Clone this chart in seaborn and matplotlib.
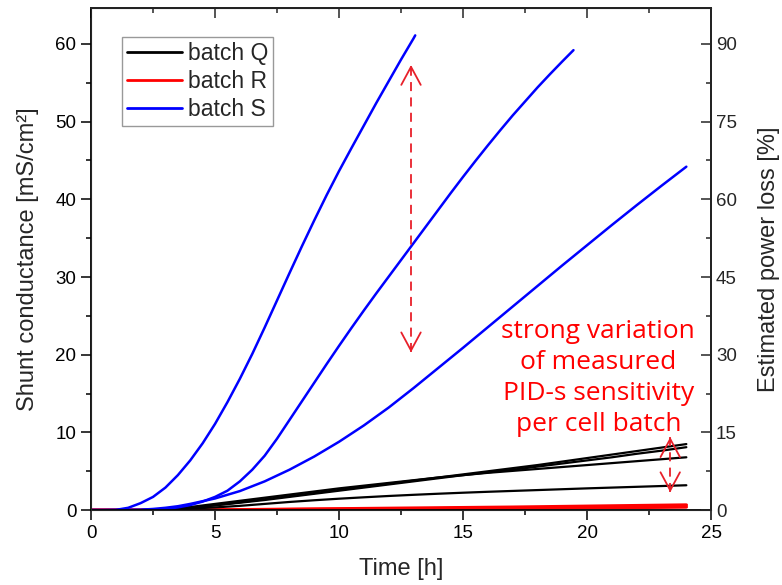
import pandas as pd
import seaborn as sns
import matplotlib.pyplot as plt
from matplotlib.ticker import MultipleLocator

# time [h] and shunt conductance [mS/cm2]
t_s1 = [0, 0.5, 1, 1.5, 2, 2.5, 3, 3.5, 4, 4.5, 5, 5.5, 6, 6.5, 7, 7.5, 8, 8.5, 9, 9.5,
        10, 10.5, 11, 11.5, 12, 12.5, 13, 13.07]
s1 = [0, 0, 0.03, 0.3, 0.9, 1.7, 2.9, 4.5, 6.4, 8.6, 11.1, 13.9, 16.9, 20.1, 23.5, 27.0, 30.5,
      33.95, 37.3, 40.55, 43.65, 46.6, 49.5, 52.4, 55.2, 58.0, 60.7, 61.1]

t_s2 = [0, 1, 2, 2.5, 3, 3.5, 4, 4.5, 5, 5.5, 6, 6.5, 7, 7.5, 8, 8.5, 9, 9.5, 10, 10.5,
        11, 11.5, 12, 12.5, 13, 13.5, 14, 14.5, 15, 15.5, 16, 16.5, 17, 17.5, 18, 18.5, 19, 19.45]
s2 = [0, 0, 0, 0.05, 0.15, 0.35, 0.65, 1.1, 1.7, 2.5, 3.7, 5.2, 7.0, 9.2, 11.6, 14.0, 16.4,
      18.8, 21.15, 23.45, 25.7, 27.9, 30.05, 32.2, 34.35, 36.5, 38.65, 40.8, 42.9, 44.95,
      46.95, 48.9, 50.8, 52.6, 54.4, 56.1, 57.75, 59.2]

t_s3 = [0, 1, 2, 2.5, 3, 3.5, 4, 5, 6, 7, 8, 9, 10, 11, 12, 13, 14, 15, 16, 17, 18, 19, 20,
        21, 22, 23, 24]
s3 = [0, 0, 0.05, 0.15, 0.3, 0.5, 0.8, 1.5, 2.45, 3.7, 5.2, 6.9, 8.8, 10.9, 13.2, 15.7, 18.3,
      20.9, 23.55, 26.2, 28.85, 31.5, 34.1, 36.7, 39.25, 41.75, 44.2]

t_day = [0, 1, 2, 3, 4, 5, 6, 7, 8, 9, 10, 11, 12, 13, 14, 15, 16, 17, 18, 19, 20, 21, 22, 23, 24]
q1 = [0, 0, 0, 0.05, 0.3, 0.65, 1.0, 1.4, 1.8, 2.2, 2.6, 3.0, 3.4, 3.8, 4.2, 4.6, 5.0, 5.4, 5.8,
      6.25, 6.7, 7.15, 7.6, 8.05, 8.5]
q2 = [0, 0, 0, 0.05, 0.3, 0.6, 0.95, 1.3, 1.7, 2.1, 2.5, 2.9, 3.3, 3.7, 4.1, 4.5, 4.85, 5.2, 5.6,
      6.0, 6.4, 6.8, 7.25, 7.65, 8.1]
q3 = [0, 0, 0, 0.1, 0.4, 0.8, 1.2, 1.6, 2.0, 2.4, 2.8, 3.15, 3.5, 3.85, 4.2, 4.5, 4.8, 5.05,
      5.3, 5.55, 5.8, 6.05, 6.3, 6.55, 6.8]
q4 = [0, 0, 0, 0.05, 0.2, 0.35, 0.55, 0.8, 1.05, 1.27, 1.47, 1.65, 1.82, 1.97, 2.11, 2.24,
      2.36, 2.47, 2.58, 2.69, 2.8, 2.9, 3.0, 3.1, 3.2]
r1 = [0, 0, 0, 0, 0, 0.02, 0.05, 0.08, 0.11, 0.14, 0.17, 0.2, 0.23, 0.26, 0.29, 0.32, 0.35,
      0.38, 0.42, 0.46, 0.5, 0.54, 0.58, 0.62, 0.66]
r2 = [0, 0, 0, 0, 0, 0.01, 0.03, 0.05, 0.07, 0.09, 0.11, 0.13, 0.15, 0.17, 0.19, 0.21, 0.23,
      0.25, 0.27, 0.29, 0.31, 0.33, 0.35, 0.37, 0.4]

batches = ["batch Q", "batch R", "batch S"]
colors = ["black", "red", "#0000ff"]

# variation arrows: x position, lower and upper end
arrow_x = [12.9, 23.35]
arrow_lo = [20.3, 2.3]
arrow_hi = [57.3, 9.4]

rows = []
for name, tt, vv in [("S1", t_s1, s1), ("S2", t_s2, s2), ("S3", t_s3, s3)]:
    rows += [(x, y, "batch S", name) for x, y in zip(tt, vv)]
for name, vv in [("Q1", q1), ("Q2", q2), ("Q3", q3), ("Q4", q4)]:
    rows += [(x, y, "batch Q", name) for x, y in zip(t_day, vv)]
for name, vv in [("R1", r1), ("R2", r2)]:
    rows += [(x, y, "batch R", name) for x, y in zip(t_day, vv)]
df = pd.DataFrame(rows, columns=["time", "G", "batch", "sample"])

sns.set_style("ticks")
plt.rcParams["font.family"] = ["Liberation Sans", "DejaVu Sans"]

fig = plt.figure(figsize=(7.82, 5.85), dpi=100)
ax = fig.add_axes([0.1164, 0.128, 0.793, 0.858])

# red first, then black, then blue on top
for b, lw in [("batch R", 2.4), ("batch Q", 1.6), ("batch S", 1.8)]:
    sub = df[df["batch"] == b]
    sns.lineplot(data=sub, x="time", y="G", units="sample", estimator=None,
                 color=colors[batches.index(b)], lw=lw, ax=ax, legend=False)

ax.set_xlim(0, 25)
ax.set_ylim(0, 64.6)
ax.xaxis.set_major_locator(MultipleLocator(5))
ax.xaxis.set_minor_locator(MultipleLocator(2.5))
ax.yaxis.set_major_locator(MultipleLocator(10))
ax.yaxis.set_minor_locator(MultipleLocator(5))
ax.tick_params(which="both", direction="out", labelsize=13.5, width=1.1, colors="black")
ax.tick_params(which="major", length=7)
ax.tick_params(which="minor", length=3.5)
ax.set_xlabel("Time [h]", fontsize=17, labelpad=12)
ax.set_ylabel("Shunt conductance [mS/cm²]", fontsize=17, labelpad=12)
for sp in ax.spines.values():
    sp.set_linewidth(1.3)
    sp.set_color("black")

# secondary axis: power loss = 1.5 x conductance
ax2 = ax.twinx()
ax2.set_ylim(0, 64.6 * 1.5)
ax2.yaxis.set_major_locator(MultipleLocator(15))
ax2.yaxis.set_minor_locator(MultipleLocator(7.5))
ax2.tick_params(which="both", direction="in", labelsize=13.5, width=1.1)
ax2.tick_params(which="major", length=7)
ax2.tick_params(which="minor", length=3.5)
ax2.set_ylabel("Estimated power loss [%]", fontsize=17, labelpad=15)
ax2.spines["right"].set_linewidth(1.3)
ax2.spines["top"].set_linewidth(1.3)

# top axis ticks pointing inward
top = ax.secondary_xaxis("top")
top.xaxis.set_major_locator(MultipleLocator(5))
top.xaxis.set_minor_locator(MultipleLocator(2.5))
top.tick_params(which="both", direction="in", labeltop=False, width=1.1)
top.tick_params(which="major", length=7)
top.tick_params(which="minor", length=3.5)

handles = [plt.Line2D([], [], color=c, lw=2) for c in colors]
leg = ax.legend(handles, batches, loc="upper left", bbox_to_anchor=(0.05, 0.942),
                fontsize=16.5, frameon=True, fancybox=False, handlelength=2.4,
                handletextpad=0.3, borderpad=0.2, labelspacing=0.22, borderaxespad=0)
leg.get_frame().set_edgecolor("#808080")
leg.get_frame().set_linewidth(1)

# dashed shaft with solid open arrowheads
arrow_col = "#e8202a"
for x, lo, hi in zip(arrow_x, arrow_lo, arrow_hi):
    ax.plot([x, x], [lo, hi], color=arrow_col, lw=1.3, ls=(0, (5, 3.5)))
    for tip, tail in [(hi, hi - 0.6), (lo, lo + 0.6)]:
        ax.annotate("", xy=(x, tip), xytext=(x, tail),
                    arrowprops=dict(arrowstyle="->,head_length=1.3,head_width=0.7",
                                    color=arrow_col, lw=1.3, shrinkA=0, shrinkB=0))

ax.text(20.45, 17.0, "strong variation\nof measured\nPID-s sensitivity\nper cell batch",
        color="red", fontsize=19, ha="center", va="center", linespacing=1.3,
        family=["Open Sans", "DejaVu Sans"])

fig.savefig("out.png", dpi=100)
